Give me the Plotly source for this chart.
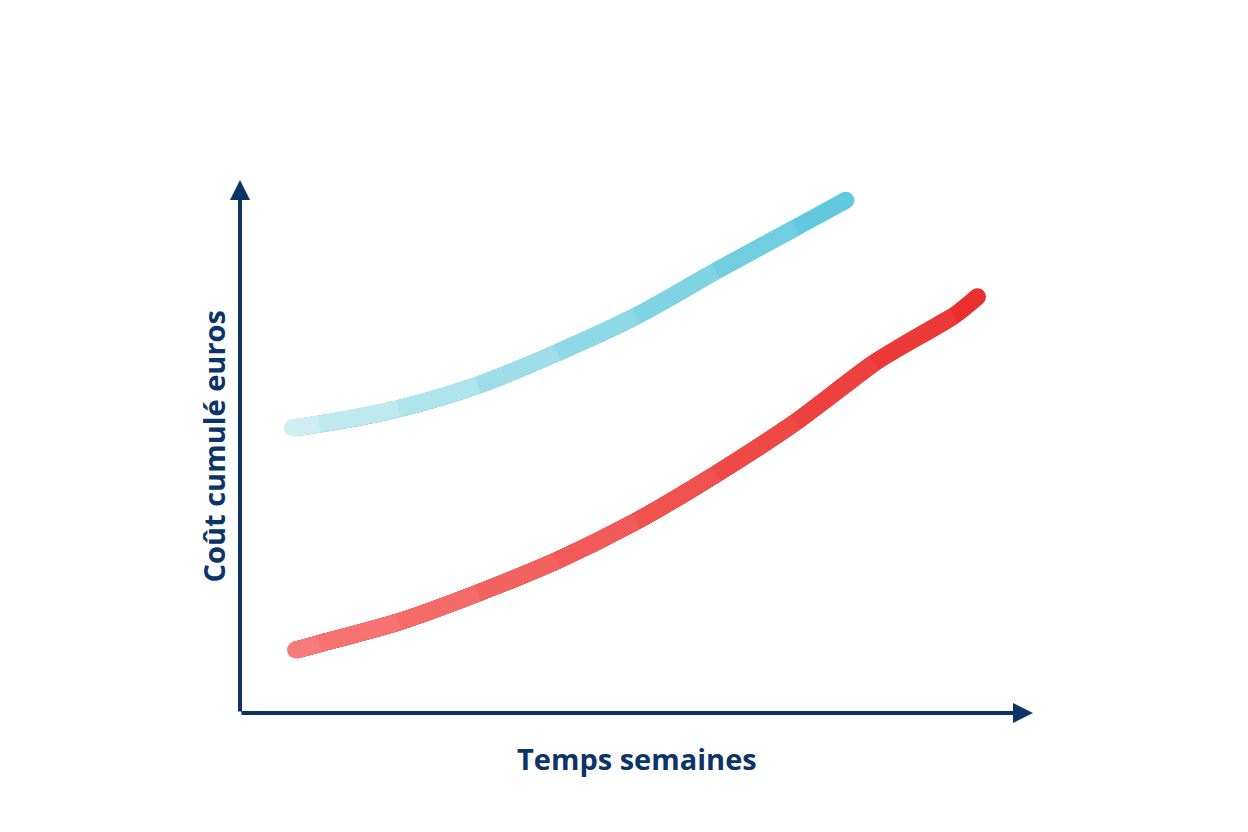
import plotly.graph_objects as go

blue_x = [0.66, 1, 2, 3, 4, 5, 6, 7, 7.64]
blue_y = [5.35, 5.42, 5.71, 6.15, 6.76, 7.45, 8.29, 9.1, 9.62]
red_x = [0.7, 1, 2, 3, 4, 5, 6, 7, 8, 9, 9.3]
red_y = [1.18, 1.3, 1.71, 2.25, 2.86, 3.6, 4.48, 5.45, 6.57, 7.45, 7.81]
x_title = "Temps semaines"
y_title = "Coût cumulé euros"

def mix(c1, c2, t):
    return "rgb(%d,%d,%d)" % tuple(round(a + (b - a) * t) for a, b in zip(c1, c2))

fig = go.Figure()
def add_grad(xs, ys, c1, c2):
    n = len(xs) - 1
    # layered splines: full curve in end colour, then lighter prefixes on top
    for k in range(n, 0, -1):
        col = mix(c1, c2, (k - 0.5) / n)
        fig.add_trace(go.Scatter(x=xs[:k + 1], y=ys[:k + 1], mode="lines",
                                 line=dict(color=col, width=17, shape="spline", smoothing=0.8),
                                 showlegend=False, hoverinfo="skip"))
    for j, t in ((0, 0.5 / n), (-1, 1 - 0.5 / n)):
        fig.add_trace(go.Scatter(x=[xs[j]], y=[ys[j]], mode="markers",
                                 marker=dict(color=mix(c1, c2, t), size=17, line=dict(width=0)),
                                 showlegend=False, hoverinfo="skip"))

add_grad(blue_x, blue_y, (214, 241, 244), (88, 198, 219))
add_grad(red_x, red_y, (248, 128, 125), (232, 44, 42))

navy = "#0d3466"
fig.add_annotation(x=10, y=0, ax=0, ay=0, xref="x", yref="y", axref="x", ayref="y",
                   showarrow=True, arrowhead=2, arrowwidth=4, arrowsize=1, arrowcolor=navy, text="")
fig.add_annotation(x=0, y=10, ax=0, ay=0, xref="x", yref="y", axref="x", ayref="y",
                   showarrow=True, arrowhead=2, arrowwidth=4, arrowsize=1, arrowcolor=navy, text="")
fig.add_annotation(x=0.5, y=-0.045, xref="paper", yref="paper", yanchor="top", showarrow=False,
                   text="<b>" + x_title + "</b>", font=dict(size=29, color=navy, family="Open Sans"))
fig.add_annotation(x=-0.06, y=0.5, xref="paper", yref="paper", textangle=-90, showarrow=False,
                   text="<b>" + y_title + "</b>", font=dict(size=29, color=navy, family="Open Sans"))

fig.update_xaxes(range=[0, 10], visible=False)
fig.update_yaxes(range=[0, 10], visible=False)
fig.update_layout(width=1248, height=832, margin=dict(l=232, r=223, t=172, b=127),
                  plot_bgcolor="white", paper_bgcolor="white")
fig.write_html("out.html")
